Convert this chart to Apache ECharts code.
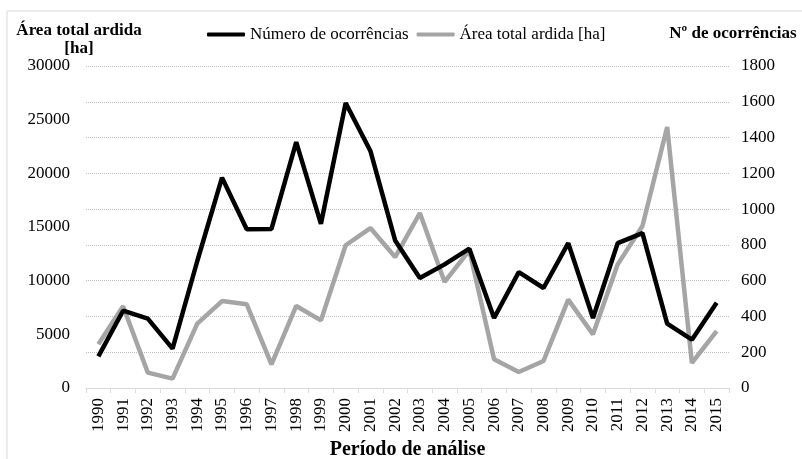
<!DOCTYPE html>
<html>
<head>
<meta charset="utf-8">
<script src="https://cdn.jsdelivr.net/npm/echarts@6/dist/echarts.min.js"></script>
<style>
html,body{margin:0;padding:0;background:#fff;}
#chart{width:802px;height:459px;}
</style>
</head>
<body>
<div id="chart"></div>
<script>
const years = ['1990','1991','1992','1993','1994','1995','1996','1997','1998','1999','2000','2001','2002','2003','2004','2005','2006','2007','2008','2009','2010','2011','2012','2013','2014','2015'];
const ocorrencias = [177,432,388,220,710,1176,887,889,1375,918,1593,1325,825,615,691,779,391,648,559,810,391,810,866,360,270,477];
const areaArdida = [4070,7610,1430,870,6000,8100,7800,2200,7640,6300,13300,14900,12200,16300,9880,12830,2670,1490,2520,8230,5000,11520,15100,24320,2330,5310];
const leftTicks = {min:0, max:30000, interval:5000};
const rightTicks = {min:0, max:1800, interval:200};

const FONT = 'Liberation Serif';
const plain = v => String(v);
const chart = echarts.init(document.getElementById('chart'), null, {renderer:'canvas'});
chart.setOption({
  animation:false,
  backgroundColor:'#ffffff',
  textStyle:{fontFamily:FONT},
  graphic:[{type:'rect', shape:{x:7,y:11,width:820,height:470}, style:{fill:'none', stroke:'#d9d9d9', lineWidth:1}, silent:true}],
  legend:{
    left:202, top:21,
    itemWidth:38, itemHeight:4, itemGap:8,
    icon:'roundRect',
    data:['Número de ocorrências','Área total ardida [ha]'],
    textStyle:{fontFamily:FONT, fontSize:17, color:'#000'}
  },
  grid:{left:86, right:73, top:66, bottom:71, containLabel:false, outerBoundsMode:'none'},
  xAxis:{
    type:'category', data:years, boundaryGap:true,
    name:'Período de análise', nameLocation:'middle', nameGap:51,
    nameTextStyle:{fontFamily:FONT, fontSize:20, fontWeight:'bold', color:'#000'},
    axisLine:{lineStyle:{color:'#d9d9d9', width:1}},
    axisTick:{show:true, length:5, lineStyle:{color:'#d9d9d9'}},
    axisLabel:{rotate:90, interval:0, margin:10, fontFamily:FONT, fontSize:17, color:'#000'},
    splitLine:{show:false}
  },
  yAxis:[{
    type:'value', position:'left', min:leftTicks.min, max:leftTicks.max, interval:leftTicks.interval,
    name:'Área total ardida\n[ha]', nameLocation:'end', nameGap:8,
    nameTextStyle:{fontFamily:FONT, fontSize:17, fontWeight:'bold', color:'#000', lineHeight:18, align:'center', padding:[0,14,0,0]},
    axisLine:{show:false}, axisTick:{show:false},
    axisLabel:{margin:16, fontFamily:FONT, fontSize:17, color:'#000', formatter:plain},
    splitLine:{show:false}
  },{
    type:'value', position:'right', min:rightTicks.min, max:rightTicks.max, interval:rightTicks.interval,
    name:'Nº de ocorrências', nameLocation:'end', nameGap:24,
    nameTextStyle:{fontFamily:FONT, fontSize:17, fontWeight:'bold', color:'#000', align:'center', padding:[0,0,0,8]},
    axisLine:{show:false}, axisTick:{show:false},
    axisLabel:{margin:12, fontFamily:FONT, fontSize:17, color:'#000', formatter:plain},
    splitLine:{show:true, lineStyle:{color:'#bfbfbf', type:'dotted', width:1}}
  }],
  series:[{
    name:'Área total ardida [ha]', type:'line', yAxisIndex:0, data:areaArdida,
    symbol:'none', lineStyle:{color:'#a5a5a5', width:4.5}, itemStyle:{color:'#a5a5a5'}
  },{
    name:'Número de ocorrências', type:'line', yAxisIndex:1, data:ocorrencias,
    symbol:'none', lineStyle:{color:'#000000', width:4.5}, itemStyle:{color:'#000000'}
  }]
});
</script>
</body>
</html>
